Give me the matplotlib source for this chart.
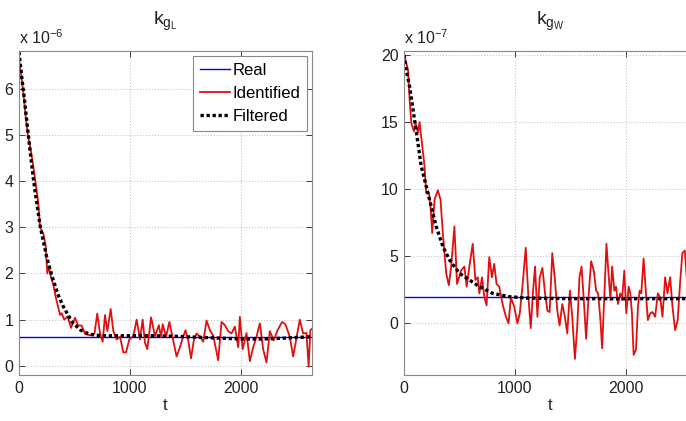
import matplotlib
matplotlib.use('Agg')
import matplotlib.pyplot as plt

plt.rcParams['font.family'] = ['Liberation Sans', 'DejaVu Sans']
plt.rcParams['mathtext.fontset'] = 'custom'
plt.rcParams['mathtext.rm'] = 'Liberation Sans'
plt.rcParams['mathtext.it'] = 'Liberation Sans'

# k_gL, units of 1e-6
real_L = 0.63
t_id_L = [0, 20, 40, 60, 80, 100, 114, 130, 150, 170, 190, 200, 220, 240, 255, 270, 290, 310, 330, 350,
          370, 384, 408, 438, 468, 490, 505, 530, 565, 595, 620, 650, 680, 705, 730, 754, 775, 796, 826, 850,
          880, 910, 940, 964, 994, 1030, 1060, 1090, 1114, 1135, 1156, 1190, 1225, 1260, 1280, 1295, 1325, 1355, 1385, 1420,
          1450, 1475, 1500, 1525, 1550, 1575, 1600, 1630, 1660, 1690, 1720, 1750, 1795, 1825, 1855, 1885, 1915, 1945, 1975, 1990,
          2015, 2050, 2080, 2110, 2140, 2170, 2200, 2230, 2260, 2295, 2330, 2370, 2400, 2440, 2470, 2500, 2530, 2560, 2590, 2610,
          2625, 2640]
v_id_L = [6.65, 6.3, 5.9, 5.4, 5.0, 4.75, 4.55, 4.3, 3.95, 3.6, 3.0, 2.95, 2.85, 2.6, 2.0, 2.15, 1.9, 1.75, 1.5, 1.3,
          1.1, 1.14, 1.0, 1.07, 0.82, 0.95, 1.04, 0.88, 0.87, 0.69, 0.67, 0.66, 0.7, 1.13, 0.7, 0.52, 1.1, 0.75, 1.23, 0.75,
          0.57, 0.63, 0.29, 0.29, 0.57, 0.64, 1.0, 0.57, 1.0, 0.5, 0.36, 1.05, 0.64, 0.88, 0.62, 0.9, 0.63, 0.95, 0.6, 0.2,
          0.4, 0.6, 0.77, 0.55, 0.16, 0.55, 0.7, 0.63, 0.52, 0.98, 0.77, 0.65, 0.12, 0.95, 0.88, 0.75, 0.7, 0.85, 0.4, 1.06,
          0.36, 0.71, 0.1, 0.4, 0.63, 0.92, 0.36, 0.07, 0.75, 0.55, 0.77, 0.95, 0.9, 0.63, 0.2, 0.6, 1.0, 0.7, 0.71, -0.02,
          0.77, 0.8]
t_f_L = [0, 25, 50, 84, 100, 129, 150, 190, 200, 250, 295, 350, 400, 477, 500, 550, 600, 650, 700, 800,
         1000, 1200, 1400, 1600, 1800, 2000, 2200, 2400, 2640]
v_f_L = [6.8, 6.25, 5.75, 5.0, 4.65, 4.06, 3.7, 3.04, 2.92, 2.35, 1.96, 1.55, 1.28, 0.95, 0.9, 0.78, 0.72, 0.68, 0.66, 0.65,
         0.65, 0.65, 0.64, 0.62, 0.6, 0.58, 0.58, 0.6, 0.63]

# k_gW, units of 1e-7
real_W = 1.95
t_id_W = [0, 36, 51, 66, 90, 105, 126, 140, 185, 200, 224, 239, 254, 275, 305, 329, 350, 380, 404, 425,
          454, 478, 514, 544, 565, 589, 619, 643, 664, 679, 703, 724, 744, 768, 792, 813, 834, 858, 888, 918,
          942, 963, 993, 1022, 1043, 1067, 1097, 1121, 1142, 1163, 1181, 1202, 1223, 1247, 1271, 1292, 1312, 1336, 1360, 1381,
          1402, 1426, 1450, 1471, 1495, 1516, 1540, 1561, 1581, 1600, 1620, 1641, 1665, 1686, 1710, 1731, 1749, 1770, 1785, 1806,
          1824, 1845, 1860, 1875, 1895, 1910, 1928, 1949, 1964, 1985, 2003, 2024, 2039, 2054, 2069, 2090, 2108, 2123, 2138, 2159,
          2180, 2197, 2218, 2239, 2263, 2287, 2308, 2329, 2353, 2374, 2398, 2419, 2443, 2466, 2487, 2508, 2530, 2560, 2600, 2640]
v_id_W = [20.1, 18.9, 16.6, 14.9, 14.3, 14.9, 14.2, 15.0, 11.7, 9.7, 9.7, 8.7, 6.7, 9.2, 9.9, 9.2, 6.7, 3.7, 2.8, 4.2,
          7.2, 2.9, 3.9, 4.2, 2.7, 4.2, 5.9, 3.2, 3.4, 2.2, 3.4, 1.9, 1.3, 4.9, 3.4, 4.4, 2.9, 2.7, 1.4, 0.45,
          -0.05, 1.9, 1.2, -0.05, 0.7, 2.7, 5.6, 1.9, -0.4, 2.4, 4.2, 0.45, 3.4, 4.1, 2.2, 0.9, 0.8, 5.2, 3.2, 0.9,
          -0.2, 1.4, 0.45, -0.8, 2.4, 0.45, -2.7, -0.3, 3.4, 4.2, 1.7, -1.2, 2.2, 4.6, 3.9, 2.4, 2.2, 0.2, -1.9, 2.2,
          5.9, 3.4, 1.7, 4.2, 2.4, 2.7, 1.4, 2.2, 1.7, 3.9, 0.7, 2.7, 2.2, 0.7, -2.4, -2.0, 1.2, 2.4, 2.2, 4.8,
          2.2, 0.2, 0.7, 0.8, 0.45, 2.2, 1.9, 0.45, 3.4, 2.2, 3.4, 1.2, -0.55, 0.2, 2.9, 5.2, 5.4, 2.0, 3.5, 1.5]
t_f_W = [0, 25, 51, 75, 96, 126, 155, 200, 245, 290, 350, 410, 499, 589, 679, 798, 948, 1097, 1300, 1600,
         2000, 2400, 2640]
v_f_W = [20.0, 18.7, 17.6, 16.3, 15.1, 13.4, 11.7, 10.2, 8.7, 7.2, 5.7, 4.7, 3.7, 3.2, 2.7, 2.2, 1.95, 1.85, 1.82, 1.8,
         1.8, 1.8, 1.8]

W, H = 686, 421
fig = plt.figure(figsize=(W / 100, H / 100), dpi=100)
ax1 = fig.add_axes([19 / W, 1 - 375 / H, 293 / W, 324 / H])
ax2 = fig.add_axes([404 / W, 1 - 375 / H, 293 / W, 324 / H])

panels = [
    (ax1, t_id_L, v_id_L, t_f_L, v_f_L, real_L, (-0.2, 6.82), range(0, 7), r'$\mathrm{k_{g_{L}}}$', r'x 10$^{-6}$'),
    (ax2, t_id_W, v_id_W, t_f_W, v_f_W, real_W, (-3.9, 20.3), range(0, 21, 5), r'$\mathrm{k_{g_{W}}}$', r'x 10$^{-7}$'),
]

for ax, t_id, v_id, t_f, v_f, real, ylim, yticks, title, scale in panels:
    ax.axhline(real, color='#0000ee', lw=1.0, label='Real')
    ax.plot(t_id, v_id, color='#e01010', lw=1.3, label='Identified')
    ax.plot(t_f, v_f, color='black', lw=2.4, linestyle=(0, (1.0, 0.8)), label='Filtered')
    ax.set_xlim(0, 2640)
    ax.set_ylim(*ylim)
    ax.set_xticks([0, 1000, 2000])
    ax.set_yticks(list(yticks))
    ax.grid(True, color='#c8c8c8', linestyle=':', lw=0.8)
    ax.tick_params(direction='in', length=4, width=0.6, top=True, right=True,
                   labelsize=11.5, colors='#222222', pad=4)
    for sp in ax.spines.values():
        sp.set_color('#888888')
        sp.set_linewidth(0.8)
    ax.set_xlabel('t', fontsize=12, labelpad=2, color='#222222')
    ax.set_title(title, fontsize=14, pad=19, color='#222222')
    ax.text(0.0, 1.012, scale, transform=ax.transAxes, fontsize=11.5,
            ha='left', va='bottom', color='#222222')

leg = ax1.legend(loc='upper right', fontsize=12, frameon=True, fancybox=False,
                 framealpha=1, edgecolor='#888888', handlelength=1.8,
                 borderaxespad=0.3, labelspacing=0.5, handletextpad=0.15)
leg.get_frame().set_linewidth(0.8)

fig.savefig('out.png', dpi=100)
